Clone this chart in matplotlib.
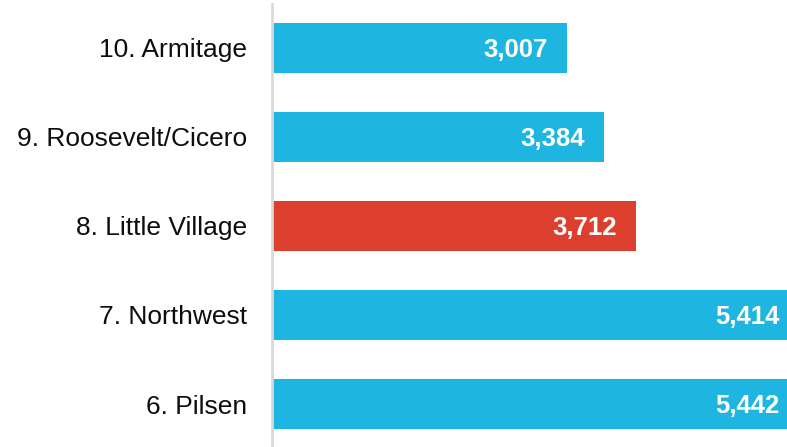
import matplotlib
matplotlib.use("Agg")
import matplotlib.pyplot as plt

plt.rcParams['font.family'] = ['Liberation Sans', 'DejaVu Sans']

# data, top to bottom
areas = ["10. Armitage", "9. Roosevelt/Cicero", "8. Little Village", "7. Northwest", "6. Pilsen"]
counts = [3007, 3384, 3712, 5414, 5442]
highlight = "8. Little Village"

blue = "#1fb5e1"
red = "#dd3f2f"

fig = plt.figure(figsize=(7.87, 4.47), dpi=100)
ax = fig.add_axes([272 / 787, 0, 1 - 272 / 787, 443 / 447])

pos = list(range(len(areas)))
colors = [red if a == highlight else blue for a in areas]
ax.barh(pos, counts, height=0.56, color=colors, zorder=2)

xmax = 5255
ax.set_xlim(0, xmax)
ax.set_ylim(4.483, -0.494)

# value labels inside the bar ends, kept inside the visible area
for p, v in zip(pos, counts):
    x = min(v - 190, xmax - 80)
    ax.text(x, p + 0.02, f"{v:,}", ha="right", va="center", color="white",
            fontsize=18.5, fontweight="bold", zorder=3)

ax.set_yticks(pos)
ax.set_yticklabels(areas, fontsize=19, color="#0d0d0d")
ax.tick_params(axis="y", length=0, pad=18)
ax.set_xticks([])

for s in ["top", "right", "bottom"]:
    ax.spines[s].set_visible(False)
ax.spines["left"].set_color("#d9d9d9")
ax.spines["left"].set_linewidth(2)

fig.savefig("out.png", dpi=100)
